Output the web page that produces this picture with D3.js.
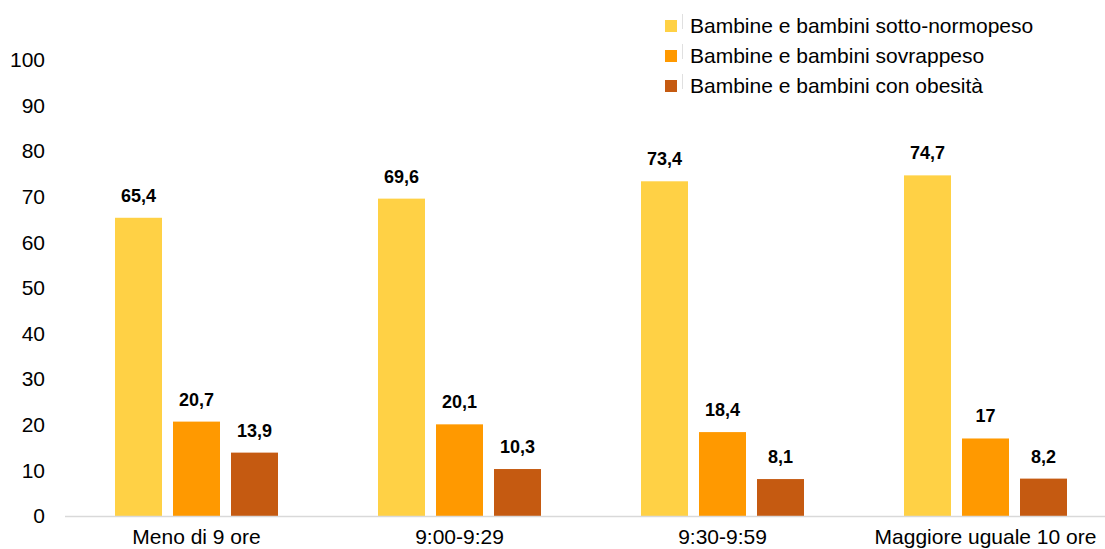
<!DOCTYPE html>
<html><head><meta charset="utf-8">
<script src="https://cdn.jsdelivr.net/npm/d3@7"></script>
<style>body{margin:0;background:#fff;}svg{display:block;font-family:"Liberation Sans",Arial,sans-serif;}</style>
</head><body><svg id="c" width="1105" height="549"></svg>
<script>
const categories = ["Meno di 9 ore", "9:00-9:29", "9:30-9:59", "Maggiore uguale 10 ore"];
const seriesNames = ["Bambine e bambini sotto-normopeso", "Bambine e bambini sovrappeso", "Bambine e bambini con obesità"];
const sottoNormopeso = [65.4, 69.6, 73.4, 74.7];
const sovrappeso = [20.7, 20.1, 18.4, 17];
const obesita = [13.9, 10.3, 8.1, 8.2];
const yTicks = [0, 10, 20, 30, 40, 50, 60, 70, 80, 90, 100];
const colors = ["#FFD145", "#FF9900", "#C55A11"];

const series = [sottoNormopeso, sovrappeso, obesita];
const svg = d3.select("#c");
const y = d3.scaleLinear().domain([0, 100]).range([516, 60]);
const x0 = d3.scaleBand().domain(categories).range([65, 1117]);
const x1 = d3.scaleBand().domain(d3.range(3)).range([0, 163]).paddingInner(11/58).paddingOuter(0);
const groupOff = (x0.bandwidth() - 163) / 2;

// y tick labels
const yAxis = d3.axisLeft(y).tickValues(yTicks).tickSize(0).tickPadding(0);
const ya = svg.append("g").attr("transform", "translate(45,0)").call(yAxis);
ya.select(".domain").remove();
ya.selectAll("text").attr("font-size", 21).attr("fill", "#000").attr("font-family", "Liberation Sans, Arial, sans-serif");

// bars
categories.forEach((c, i) => {
  const g = svg.append("g").attr("transform", `translate(${x0(c) + groupOff},0)`);
  series.forEach((s, j) => {
    g.append("rect").attr("x", x1(j)).attr("y", y(s[i])).attr("width", x1.bandwidth())
      .attr("height", y(0) - y(s[i])).attr("fill", colors[j]);
    g.append("text").attr("x", x1(j) + x1.bandwidth() / 2).attr("y", y(s[i]) - 16)
      .attr("text-anchor", "middle").attr("font-size", 18).attr("font-weight", "bold")
      .text(String(s[i]).replace(".", ","));
  });
});

// x axis
const xAxis = d3.axisBottom(x0).tickSize(0).tickPadding(0);
const xa = svg.append("g").attr("transform", `translate(0,${y(0)})`).call(xAxis);
xa.select(".domain").attr("stroke", "#D9D9D9").attr("stroke-width", 1.5).attr("d", `M65,0.5H1117`);
xa.selectAll("text").attr("font-size", 21).attr("fill", "#000").attr("dy", null).attr("y", 28)
  .attr("font-family", "Liberation Sans, Arial, sans-serif");

// legend
const leg = svg.append("g");
seriesNames.forEach((n, j) => {
  const yy = 20 + j * 30;
  leg.append("rect").attr("x", 665).attr("y", yy).attr("width", 12).attr("height", 12).attr("fill", colors[j]);
  leg.append("line").attr("x1", 682.5).attr("x2", 682.5).attr("y1", yy - 6).attr("y2", yy + 9).attr("stroke", "#E0E0E0");
  leg.append("text").attr("x", 690).attr("y", yy + 13).attr("font-size", 21).text(n);
});
</script></body></html>
